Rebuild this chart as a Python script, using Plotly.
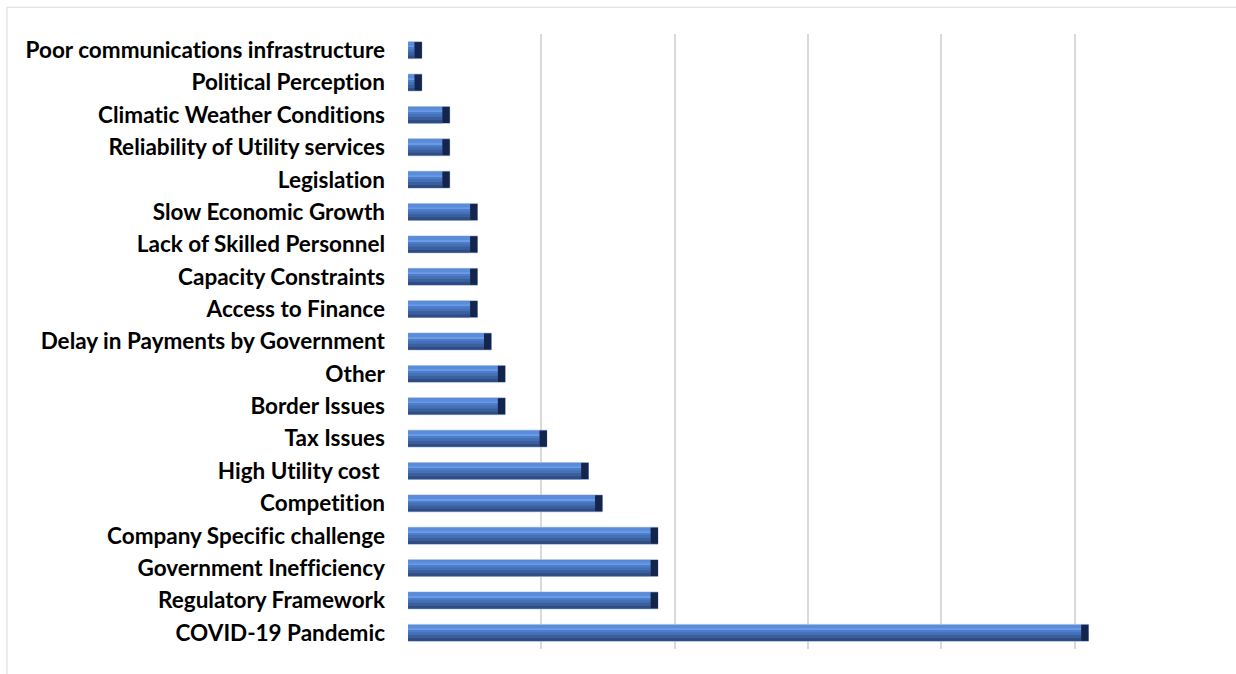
import plotly.graph_objects as go

# Challenges faced by firms (% of respondents), listed bottom to top
categories = [
    "COVID-19 Pandemic",
    "Regulatory Framework",
    "Government Inefficiency",
    "Company Specific challenge",
    "Competition",
    "High Utility cost ",
    "Tax Issues",
    "Border Issues",
    "Other",
    "Delay in Payments by Government",
    "Access to Finance",
    "Capacity Constraints",
    "Lack of Skilled Personnel",
    "Slow Economic Growth",
    "Legislation",
    "Reliability of Utility services",
    "Climatic Weather Conditions",
    "Political Perception",
    "Poor communications infrastructure",
]
values = [51.04, 18.75, 18.75, 18.75, 14.58, 13.54, 10.42, 7.29, 7.29, 6.25,
          5.21, 5.21, 5.21, 5.21, 3.13, 3.13, 3.13, 1.04, 1.04]

x_ticks = [0, 10, 20, 30, 40, 50, 60]

BAR_W = 0.52          # bar thickness in category units
CAP = 0.55            # width of the dark bevelled end, in value units
LABEL_FONT = "Lato, 'Liberation Sans', sans-serif"

face = [max(v - CAP, v * 0.45) for v in values]
cap_len = [v - f for v, f in zip(values, face)]

fig = go.Figure()

# full bar body with its light outline
fig.add_trace(go.Bar(
    y=categories, x=values, orientation="h",
    width=BAR_W, offset=-BAR_W / 2,
    marker=dict(color="#4571B8", line=dict(color="#A8BEE3", width=0.8)),
    hoverinfo="skip", showlegend=False,
))

# shading bands of the bar face, bottom to top: (offset, thickness, colour)
bands = [
    (-0.255, 0.10, "#304D83"),
    (-0.16, 0.10, "#3B5E9C"),
    (-0.065, 0.09, "#4470B6"),
    (0.02, 0.09, "#4E7DCB"),
    (0.10, 0.05, "#6C9BE6"),
    (0.14, 0.105, "#5A8CDC"),
]
for off, w, col in bands:
    fig.add_trace(go.Bar(
        y=categories, x=face, orientation="h",
        width=w, offset=off,
        marker=dict(color=col, line=dict(width=0)),
        hoverinfo="skip", showlegend=False,
    ))

# dark bevelled end of each bar
fig.add_trace(go.Bar(
    y=categories, x=cap_len, base=face, orientation="h",
    width=BAR_W - 0.02, offset=-(BAR_W - 0.02) / 2,
    marker=dict(color="#15244A", line=dict(width=0)),
    hoverinfo="skip", showlegend=False,
))

fig.update_layout(
    width=1236, height=674,
    margin=dict(l=408, r=28, t=34, b=25),
    paper_bgcolor="white", plot_bgcolor="white",
    barmode="overlay",
    font=dict(family=LABEL_FONT, color="#000000"),
    xaxis=dict(
        range=[0, 60], tickvals=x_ticks, showticklabels=False,
        showgrid=True, gridcolor="#D9D9D9", gridwidth=1.5,
        zeroline=False, showline=False, fixedrange=True,
    ),
    yaxis=dict(
        type="category", range=[-0.5, len(categories) - 0.5],
        showgrid=False, zeroline=False, showline=False,
        ticks="", ticklabelstandoff=22,
        tickfont=dict(family=LABEL_FONT, size=22.5, color="#000000", weight="bold"),
    ),
    shapes=[dict(
        type="rect", xref="paper", yref="paper",
        x0=-0.50125, x1=1.05, y0=-0.06, y1=1.0435,
        line=dict(color="#D9D9D9", width=1), fillcolor="rgba(0,0,0,0)", layer="below",
    )],
)

# render category labels without typographic ligatures
no_ligatures = (
    "var s=document.createElement('style');"
    "s.textContent='.main-svg text{font-variant-ligatures:none;"
    "font-feature-settings:\"liga\" 0, \"clig\" 0;}';"
    "document.head.appendChild(s);"
)

fig.write_html("out.html", post_script=no_ligatures)
